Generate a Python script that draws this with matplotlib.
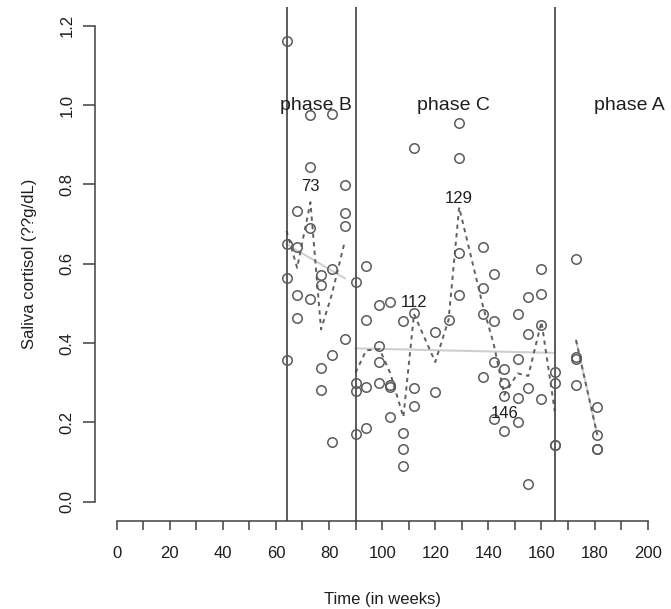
import numpy as np
import pandas as pd
import matplotlib
matplotlib.use("Agg")
import matplotlib.pyplot as plt
from matplotlib.ticker import MultipleLocator, FormatStrFormatter

plt.rcParams['font.family'] = ['Liberation Sans', 'DejaVu Sans']

# weeks of measurement, phase of each week and the saliva samples taken that week
weeks = [64, 68, 73, 77, 81, 86,
         90, 94, 99, 103, 108, 112, 120, 125, 129, 138, 142, 146, 151, 155, 160, 165,
         173, 181]
phase_of_week = ["B"] * 6 + ["C"] * 16 + ["A"] * 2
samples = [
    [1.162, 0.649, 0.563, 0.357],   # 64
    [0.734, 0.641, 0.521, 0.462],   # 68
    [0.975, 0.845, 0.689, 0.511],   # 73
    [0.571, 0.546, 0.338, 0.282],   # 77
    [0.977, 0.587, 0.370, 0.151],   # 81
    [0.798, 0.729, 0.695, 0.409],   # 86
    [0.555, 0.298, 0.279, 0.170],   # 90
    [0.595, 0.458, 0.288, 0.185],   # 94
    [0.496, 0.392, 0.353, 0.298],   # 99
    [0.504, 0.294, 0.288, 0.214],   # 103
    [0.456, 0.174, 0.132, 0.091],   # 108
    [0.891, 0.475, 0.286, 0.241],   # 112
    [0.427, 0.277],                 # 120
    [0.458],                        # 125
    [0.955, 0.866, 0.626, 0.521],   # 129
    [0.643, 0.538, 0.472, 0.314],   # 138
    [0.574, 0.456, 0.353, 0.208],   # 142
    [0.335, 0.298, 0.266, 0.179],   # 146
    [0.472, 0.359, 0.261, 0.202],   # 151
    [0.515, 0.422, 0.287, 0.044],   # 155
    [0.587, 0.523, 0.445, 0.259],   # 160
    [0.326, 0.300, 0.143, 0.143],   # 165
    [0.611, 0.366, 0.359, 0.293],   # 173
    [0.238, 0.168, 0.134, 0.134],   # 181
]

phase_order = ["B", "C", "A"]
phase_starts = [64, 90, 165]
phase_names = ["phase B", "phase C", "phase A"]
phase_label_x = [75, 127, 193]

# weeks that get a number written next to their mean
marked_weeks = [73, 112, 129, 146]
marked_label_y = [0.795, 0.503, 0.765, 0.222]

rows = []
for w, ph, vals in zip(weeks, phase_of_week, samples):
    for v in vals:
        rows.append((w, ph, v))
df = pd.DataFrame(rows, columns=["week", "phase", "cortisol"])
means = df.groupby(["phase", "week"], sort=False)["cortisol"].mean().reset_index()

fig = plt.figure(figsize=(6.71, 6.09), dpi=100)
ax = fig.add_axes([0.142, 0.145, 0.855, 0.844])

ax.plot(df["week"], df["cortisol"], "o", mfc="none", mec="#5a5a5a",
        ms=6.8, mew=1.1, zorder=3)

for ph in phase_order:
    d = df[df["phase"] == ph]
    # least squares trend inside the phase
    slope, icpt = np.polyfit(d["week"], d["cortisol"], 1)
    xs = np.array([d["week"].min(), d["week"].max()])
    ax.plot(xs, icpt + slope * xs, color="#cfcfcf", lw=1.5, zorder=1)
    m = means[means["phase"] == ph]
    ax.plot(m["week"], m["cortisol"], color="#606060", lw=1.4,
            ls=(0, (2.2, 2.2)), zorder=2)

for x0 in phase_starts:
    ax.axvline(x0, color="#404040", lw=1.2, zorder=2)

for name, lx in zip(phase_names, phase_label_x):
    ax.text(lx, 1.0, name, ha="center", va="center", fontsize=14, color="#1e1e1e")

for w, ly in zip(marked_weeks, marked_label_y):
    ax.text(w, ly, str(w), ha="center", va="center", fontsize=12, color="#1e1e1e")

ax.set_xlim(-8, 208)
ax.set_ylim(-0.048, 1.248)
for s in ["top", "right"]:
    ax.spines[s].set_visible(False)
ax.spines["left"].set_bounds(0, 1.2)
ax.spines["bottom"].set_bounds(0, 200)
for s in ["left", "bottom"]:
    ax.spines[s].set_color("#404040")
    ax.spines[s].set_linewidth(1.1)

ax.xaxis.set_major_locator(MultipleLocator(20))
ax.xaxis.set_minor_locator(MultipleLocator(10))
ax.yaxis.set_major_locator(MultipleLocator(0.2))
ax.yaxis.set_major_formatter(FormatStrFormatter("%.1f"))
ax.tick_params(axis="x", which="both", length=6.5, width=1.1, color="#404040",
               labelsize=12, pad=12, labelcolor="#1e1e1e")
ax.tick_params(axis="y", length=9, width=1.1, color="#404040",
               labelsize=12, pad=6, labelcolor="#1e1e1e")
for lab in ax.get_yticklabels():
    lab.set_rotation(90)
    lab.set_va("center")

ax.set_xlabel("Time (in weeks)", fontsize=12, color="#1e1e1e", labelpad=22)
ax.set_ylabel("Saliva cortisol (??g/dL)", fontsize=12, color="#1e1e1e", labelpad=16)

fig.savefig("out.png", dpi=100)
